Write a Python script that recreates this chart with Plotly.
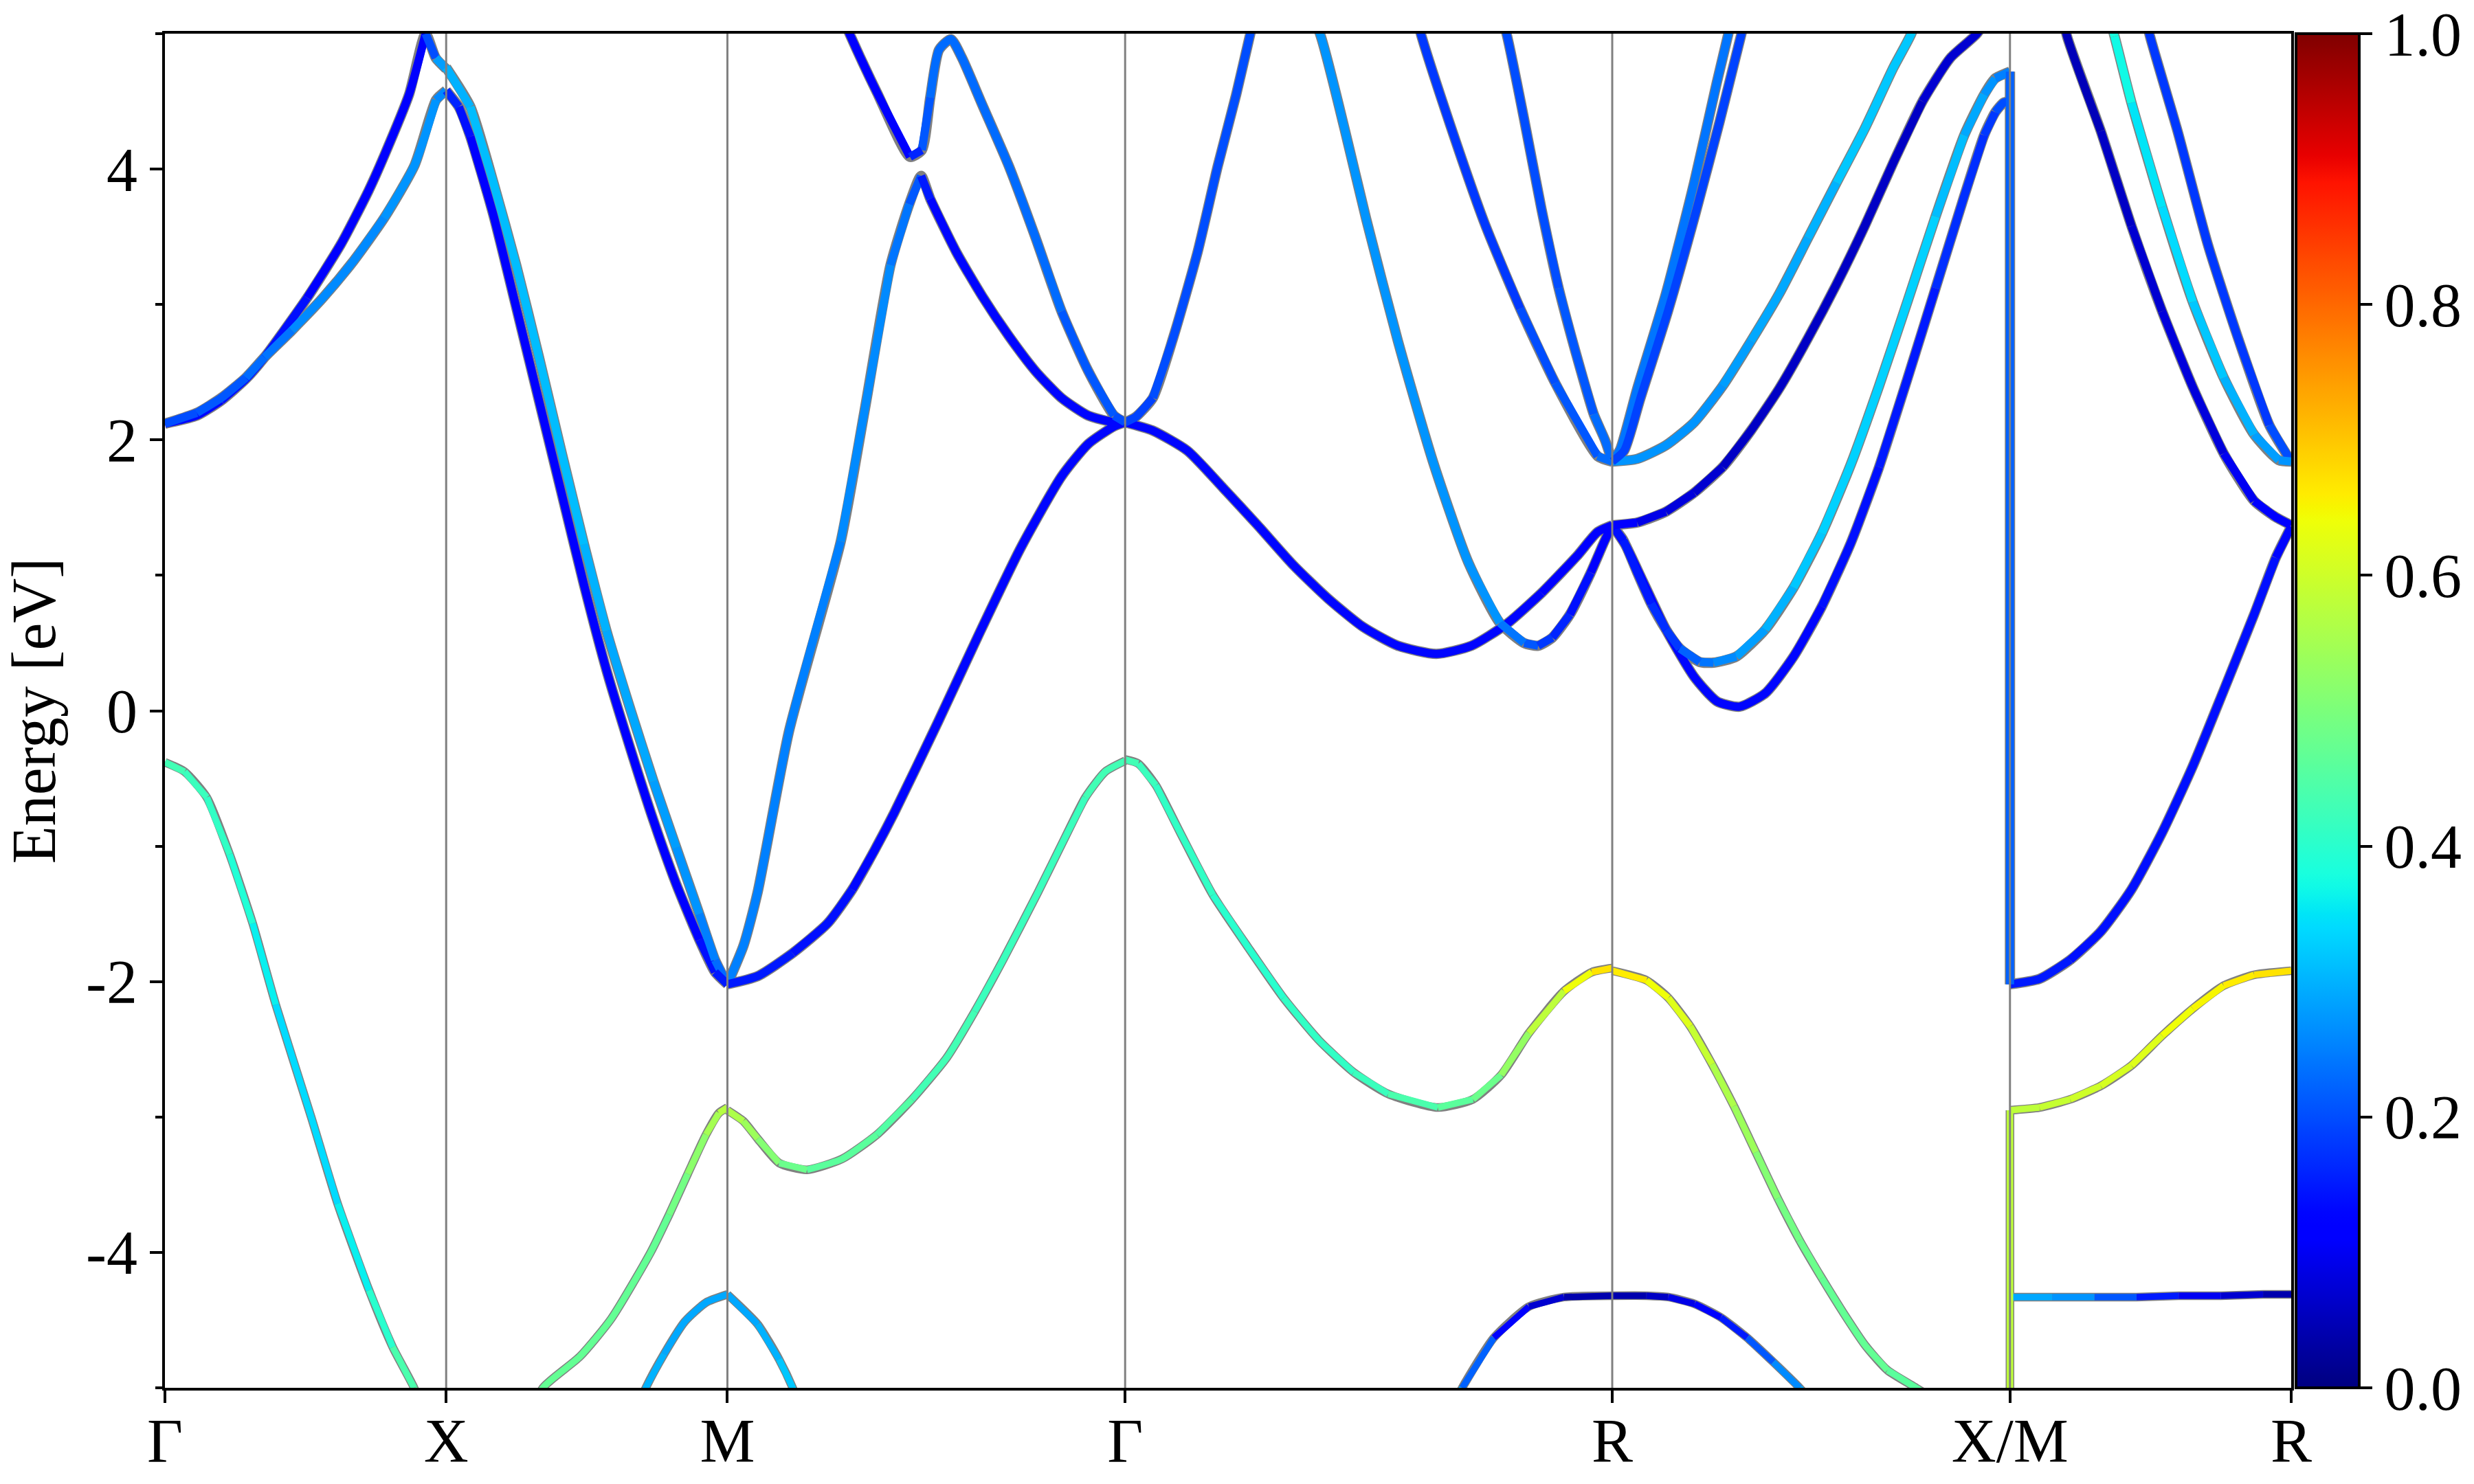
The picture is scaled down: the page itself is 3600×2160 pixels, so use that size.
import numpy as np
import plotly.graph_objects as go

# ---------------- k-path (simple cubic, units of 2*pi/a) ----------------
SEG_LEN = [0.5, 0.5, np.sqrt(2) / 2, np.sqrt(3) / 2, np.sqrt(2) / 2, 0.5]   # Γ-X, X-M, M-Γ, Γ-R, R-X, M-R
TICK_LABELS = ["Γ", "X", "M", "Γ", "R", "X/M", "R"]
Y_TICKS = [-4, -2, 0, 2, 4]
Y_TICK_TEXT = ["-4", "-2", "0", "2", "4"]
Y_MINOR = [-5, -3, -1, 1, 3, 5]
CBAR_TICKS = [0.0, 0.2, 0.4, 0.6, 0.8, 1.0]

# ---------------- bands: (fraction along segment, energy eV, weight) ----------------
# Γ -> X
GX_V1 = [(0.0, -0.38, 0.43), (0.07, -0.45, 0.43), (0.149, -0.64, 0.42), (0.23, -1.06, 0.40),
         (0.312, -1.57, 0.37), (0.394, -2.17, 0.35), (0.52, -3.00, 0.34), (0.614, -3.64, 0.35),
         (0.726, -4.28, 0.38), (0.81, -4.70, 0.42), (0.886, -5.00, 0.46), (1.0, -5.6, 0.47)]
GX_A = [(0.0, 2.12, 0.13), (0.114, 2.18, 0.13), (0.2, 2.29, 0.13), (0.288, 2.45, 0.14),
        (0.354, 2.61, 0.14), (0.506, 3.05, 0.13), (0.627, 3.45, 0.12), (0.724, 3.84, 0.12),
        (0.78, 4.10, 0.12), (0.868, 4.55, 0.12), (0.927, 5.0, 0.13), (0.963, 4.82, 0.27),
        (1.0, 4.74, 0.28)]
GX_B = [(0.0, 2.12, 0.20), (0.114, 2.20, 0.20), (0.2, 2.31, 0.21), (0.288, 2.46, 0.22),
        (0.354, 2.61, 0.23), (0.452, 2.81, 0.25), (0.562, 3.05, 0.26), (0.67, 3.32, 0.26),
        (0.78, 3.64, 0.26), (0.888, 4.03, 0.27), (0.964, 4.51, 0.27), (1.0, 4.58, 0.25)]

# X -> M
XM_CA = [(0.0, 4.75, 0.29), (0.086, 4.46, 0.31), (0.168, 3.90, 0.31), (0.249, 3.29, 0.31),
         (0.33, 2.61, 0.31), (0.41, 1.91, 0.31), (0.49, 1.23, 0.31), (0.57, 0.59, 0.30),
         (0.655, 0.01, 0.29), (0.737, -0.52, 0.28), (0.818, -1.01, 0.27), (0.90, -1.50, 0.26),
         (0.956, -1.84, 0.24), (1.0, -2.02, 0.22)]
XM_CB = [(0.0, 4.58, 0.18), (0.045, 4.46, 0.15), (0.086, 4.24, 0.13), (0.168, 3.66, 0.12),
         (0.249, 2.98, 0.12), (0.33, 2.29, 0.12), (0.41, 1.61, 0.12), (0.49, 0.93, 0.12),
         (0.57, 0.30, 0.12), (0.655, -0.28, 0.12), (0.737, -0.81, 0.12), (0.818, -1.28, 0.12),
         (0.90, -1.69, 0.13), (0.956, -1.93, 0.14), (1.0, -2.02, 0.15)]
XM_V2 = [(0.28, -5.3, 0.47), (0.344, -5.0, 0.47), (0.475, -4.77, 0.47), (0.587, -4.49, 0.47),
         (0.727, -4.00, 0.47), (0.793, -3.72, 0.48), (0.859, -3.42, 0.50), (0.924, -3.13, 0.54),
         (0.97, -2.97, 0.57), (1.0, -2.93, 0.58)]
XM_V3 = [(0.65, -5.3, 0.30), (0.71, -5.0, 0.30), (0.775, -4.75, 0.30), (0.849, -4.51, 0.29),
         (0.924, -4.37, 0.29), (1.0, -4.31, 0.29)]

# M -> Γ
MG_CC = [(0.0, -2.02, 0.15), (0.076, -1.96, 0.15), (0.164, -1.79, 0.14), (0.252, -1.57, 0.14),
         (0.314, -1.32, 0.13), (0.37, -1.03, 0.13), (0.42, -0.75, 0.13), (0.53, -0.08, 0.13),
         (0.63, 0.55, 0.13), (0.737, 1.20, 0.13), (0.84, 1.73, 0.13), (0.907, 1.97, 0.13),
         (0.972, 2.10, 0.13), (1.0, 2.13, 0.13)]
MG_DF = [(0.0, -2.02, 0.25), (0.041, -1.73, 0.25), (0.076, -1.34, 0.25), (0.155, -0.15, 0.25),
         (0.285, 1.25, 0.25), (0.344, 2.20, 0.26), (0.41, 3.29, 0.25), (0.457, 3.74, 0.24),
         (0.487, 3.95, 0.17), (0.51, 3.78, 0.13), (0.575, 3.39, 0.13), (0.641, 3.06, 0.13),
         (0.707, 2.77, 0.13), (0.774, 2.51, 0.13), (0.84, 2.31, 0.13), (0.907, 2.18, 0.13),
         (0.972, 2.13, 0.13), (1.0, 2.13, 0.13)]
MG_E = [(0.25, 5.4, 0.11), (0.307, 5.0, 0.11), (0.377, 4.56, 0.11), (0.459, 4.09, 0.12),
        (0.489, 4.14, 0.20), (0.51, 4.53, 0.22), (0.532, 4.88, 0.23), (0.562, 4.96, 0.23),
        (0.59, 4.82, 0.23), (0.64, 4.48, 0.23), (0.708, 4.02, 0.23), (0.774, 3.50, 0.23),
        (0.84, 2.95, 0.22), (0.907, 2.51, 0.21), (0.972, 2.18, 0.20), (1.0, 2.13, 0.20)]
MG_V2 = [(0.0, -2.95, 0.58), (0.04, -3.03, 0.55), (0.076, -3.16, 0.52), (0.13, -3.34, 0.49),
         (0.2, -3.39, 0.47), (0.288, -3.31, 0.46), (0.376, -3.13, 0.45), (0.464, -2.87, 0.44),
         (0.552, -2.56, 0.43), (0.622, -2.22, 0.43), (0.693, -1.84, 0.42), (0.781, -1.34, 0.42),
         (0.85, -0.93, 0.42), (0.9, -0.64, 0.43), (0.95, -0.45, 0.43), (1.0, -0.37, 0.43)]
MG_V3 = [(0.0, -4.31, 0.29), (0.076, -4.53, 0.30), (0.13, -4.79, 0.31), (0.164, -5.0, 0.32),
         (0.2, -5.3, 0.32)]

# Γ -> R
GR_CC = [(0.0, 2.13, 0.13), (0.056, 2.07, 0.13), (0.128, 1.92, 0.13), (0.2, 1.65, 0.13),
         (0.272, 1.37, 0.13), (0.344, 1.08, 0.13), (0.416, 0.83, 0.13), (0.488, 0.62, 0.13),
         (0.56, 0.48, 0.13), (0.639, 0.42, 0.13), (0.711, 0.48, 0.13), (0.783, 0.64, 0.13),
         (0.855, 0.87, 0.13), (0.927, 1.14, 0.12), (0.97, 1.32, 0.12), (1.0, 1.37, 0.12)]
GR_G = [(0.35, 5.4, 0.27), (0.4, 5.0, 0.27), (0.451, 4.29, 0.27), (0.495, 3.63, 0.27),
        (0.56, 2.73, 0.27), (0.632, 1.84, 0.27), (0.704, 1.10, 0.27), (0.769, 0.65, 0.26),
        (0.819, 0.50, 0.22), (0.848, 0.48, 0.20), (0.877, 0.54, 0.17), (0.913, 0.71, 0.15),
        (0.956, 1.02, 0.13), (0.985, 1.26, 0.12), (1.0, 1.37, 0.12)]
GR_H = [(0.0, 2.13, 0.19), (0.022, 2.17, 0.19), (0.057, 2.31, 0.19), (0.1, 2.77, 0.20),
        (0.149, 3.39, 0.20), (0.19, 4.02, 0.20), (0.228, 4.55, 0.20), (0.257, 5.0, 0.20),
        (0.29, 5.5, 0.20)]
GR_I = [(0.55, 5.8, 0.18), (0.607, 5.0, 0.18), (0.667, 4.33, 0.18), (0.739, 3.59, 0.18),
        (0.811, 2.97, 0.19), (0.883, 2.42, 0.20), (0.97, 1.88, 0.22), (1.0, 1.84, 0.23)]
GR_J = [(0.75, 5.4, 0.20), (0.783, 5.0, 0.20), (0.819, 4.37, 0.20), (0.855, 3.70, 0.20),
        (0.89, 3.12, 0.20), (0.927, 2.62, 0.21), (0.962, 2.19, 0.22), (0.985, 2.0, 0.23),
        (1.0, 1.84, 0.24)]
GR_V2 = [(0.0, -0.36, 0.43), (0.027, -0.39, 0.43), (0.063, -0.55, 0.42), (0.113, -0.90, 0.41),
         (0.18, -1.36, 0.40), (0.253, -1.75, 0.40), (0.325, -2.12, 0.40), (0.397, -2.43, 0.41),
         (0.469, -2.67, 0.42), (0.54, -2.83, 0.43), (0.642, -2.93, 0.45), (0.714, -2.87, 0.47),
         (0.772, -2.69, 0.50), (0.829, -2.38, 0.55), (0.901, -2.07, 0.62), (0.958, -1.93, 0.66),
         (1.0, -1.90, 0.68)]
GR_V4 = [(0.65, -5.3, 0.30), (0.692, -5.0, 0.28), (0.757, -4.63, 0.16), (0.829, -4.40, 0.08),
         (0.901, -4.33, 0.05), (1.0, -4.32, 0.04)]

# R -> X
RX_K1 = [(0.0, 1.84, 0.24), (0.02, 1.93, 0.24), (0.063, 2.38, 0.24), (0.135, 3.08, 0.24),
         (0.206, 3.90, 0.24), (0.263, 4.64, 0.24), (0.292, 5.0, 0.24), (0.33, 5.5, 0.24)]
RX_K2 = [(0.0, 1.84, 0.19), (0.03, 1.92, 0.19), (0.07, 2.30, 0.19), (0.14, 2.95, 0.19),
         (0.21, 3.68, 0.19), (0.27, 4.35, 0.19), (0.325, 5.0, 0.19), (0.36, 5.4, 0.19)]
RX_L = [(0.0, 1.84, 0.27), (0.063, 1.86, 0.27), (0.135, 1.96, 0.27), (0.206, 2.13, 0.27),
        (0.278, 2.40, 0.27), (0.349, 2.73, 0.28), (0.42, 3.08, 0.29), (0.492, 3.49, 0.30),
        (0.564, 3.90, 0.31), (0.635, 4.30, 0.32), (0.707, 4.75, 0.32), (0.752, 5.0, 0.32),
        (0.8, 5.4, 0.32)]
RX_M = [(0.0, 1.37, 0.12), (0.063, 1.39, 0.10), (0.135, 1.47, 0.08), (0.206, 1.61, 0.07),
        (0.278, 1.80, 0.06), (0.349, 2.07, 0.06), (0.42, 2.38, 0.06), (0.492, 2.75, 0.06),
        (0.564, 3.15, 0.06), (0.635, 3.58, 0.06), (0.707, 4.05, 0.06), (0.78, 4.50, 0.06),
        (0.85, 4.82, 0.07), (0.917, 5.0, 0.07), (0.96, 5.2, 0.07)]
RX_N = [(0.0, 1.37, 0.13), (0.034, 1.22, 0.13), (0.078, 0.95, 0.13), (0.135, 0.60, 0.13),
        (0.206, 0.25, 0.13), (0.263, 0.07, 0.13), (0.32, 0.03, 0.13), (0.385, 0.13, 0.13),
        (0.456, 0.40, 0.13), (0.527, 0.77, 0.13), (0.6, 1.24, 0.14), (0.671, 1.80, 0.14),
        (0.742, 2.45, 0.15), (0.813, 3.12, 0.16), (0.885, 3.80, 0.17), (0.935, 4.25, 0.18),
        (0.963, 4.42, 0.19), (0.984, 4.49, 0.20), (1.0, 4.50, 0.20)]
RX_O = [(0.0, 1.37, 0.13), (0.028, 1.26, 0.14), (0.063, 1.02, 0.15), (0.098, 0.79, 0.16),
        (0.135, 0.60, 0.17), (0.17, 0.46, 0.20), (0.22, 0.36, 0.23), (0.255, 0.355, 0.25),
        (0.312, 0.40, 0.27), (0.385, 0.60, 0.29), (0.456, 0.91, 0.31), (0.527, 1.31, 0.32),
        (0.6, 1.82, 0.33), (0.671, 2.40, 0.33), (0.742, 3.02, 0.33), (0.813, 3.65, 0.32),
        (0.885, 4.25, 0.30), (0.935, 4.55, 0.28), (0.963, 4.67, 0.26), (1.0, 4.72, 0.24)]
RX_V2 = [(0.0, -1.92, 0.67), (0.086, -1.99, 0.65), (0.141, -2.12, 0.63), (0.196, -2.33, 0.61),
         (0.251, -2.61, 0.58), (0.306, -2.92, 0.55), (0.361, -3.26, 0.52), (0.416, -3.60, 0.50),
         (0.471, -3.91, 0.49), (0.527, -4.19, 0.48), (0.582, -4.45, 0.47), (0.637, -4.69, 0.47),
         (0.692, -4.87, 0.47), (0.764, -5.0, 0.46), (0.85, -5.15, 0.46), (1.0, -5.25, 0.46)]
RX_V4 = [(0.0, -4.32, 0.04), (0.086, -4.32, 0.05), (0.141, -4.33, 0.07), (0.207, -4.38, 0.10),
         (0.273, -4.48, 0.13), (0.339, -4.63, 0.18), (0.405, -4.81, 0.24), (0.471, -5.0, 0.28),
         (0.53, -5.2, 0.30)]

# M -> R
MR_B1 = [(0.0, -2.02, 0.15), (0.105, -1.98, 0.15), (0.214, -1.84, 0.14), (0.323, -1.63, 0.14),
         (0.432, -1.32, 0.14), (0.541, -0.90, 0.14), (0.65, -0.41, 0.14), (0.76, 0.15, 0.14),
         (0.868, 0.71, 0.14), (0.945, 1.13, 0.13), (1.0, 1.36, 0.13)]
MR_NAVY = [(0.17, 5.3, 0.05), (0.203, 4.98, 0.05), (0.323, 4.28, 0.05), (0.432, 3.58, 0.06),
           (0.541, 2.95, 0.07), (0.65, 2.39, 0.08), (0.76, 1.90, 0.09), (0.868, 1.55, 0.11),
           (0.945, 1.43, 0.12), (1.0, 1.37, 0.12)]
MR_TEAL = [(0.33, 5.3, 0.38), (0.372, 4.98, 0.38), (0.432, 4.49, 0.36), (0.541, 3.72, 0.34),
           (0.65, 3.02, 0.33), (0.76, 2.46, 0.31), (0.868, 2.04, 0.29), (0.956, 1.85, 0.27),
           (1.0, 1.84, 0.27)]
MR_B2 = [(0.46, 5.3, 0.18), (0.498, 4.98, 0.18), (0.596, 4.28, 0.18), (0.704, 3.44, 0.18),
         (0.813, 2.74, 0.18), (0.922, 2.11, 0.19), (1.0, 1.84, 0.20)]
MR_YEL = [(0.0, -2.95, 0.58), (0.105, -2.93, 0.59), (0.214, -2.87, 0.60), (0.323, -2.77, 0.61),
          (0.432, -2.62, 0.62), (0.541, -2.40, 0.63), (0.65, -2.20, 0.64), (0.76, -2.03, 0.65),
          (0.868, -1.95, 0.66), (1.0, -1.92, 0.67)]
MR_FLAT = [(0.0, -4.33, 0.30), (0.15, -4.33, 0.28), (0.3, -4.33, 0.25), (0.45, -4.33, 0.17),
           (0.6, -4.32, 0.12), (0.75, -4.32, 0.08), (0.9, -4.31, 0.05), (1.0, -4.31, 0.03)]

# vertical jumps drawn at the X/M break: (E at X, E at M, weight)
XM_JUMPS = [(4.72, -2.02, 0.22), (-5.6, -2.95, 0.58)]

SEGMENT_BANDS = [
    [GX_V1, GX_A, GX_B],
    [XM_CA, XM_CB, XM_V2, XM_V3],
    [MG_CC, MG_DF, MG_E, MG_V2, MG_V3],
    [GR_CC, GR_G, GR_H, GR_I, GR_J, GR_V2, GR_V4],
    [RX_K1, RX_K2, RX_L, RX_M, RX_N, RX_O, RX_V2, RX_V4],
    [MR_B1, MR_NAVY, MR_TEAL, MR_B2, MR_YEL, MR_FLAT],
]

# ---------------- helpers ----------------
K_NODES = np.concatenate([[0.0], np.cumsum(SEG_LEN)])


def jet_rgb(v):
    v = float(np.clip(v, 0, 1))
    r = np.interp(v, [0, 0.35, 0.66, 0.89, 1], [0, 0, 1, 1, 0.5])
    g = np.interp(v, [0, 0.125, 0.375, 0.64, 0.91, 1], [0, 0, 1, 1, 0, 0])
    b = np.interp(v, [0, 0.11, 0.34, 0.65, 1], [0.5, 1, 1, 0, 0])
    return f"rgb({round(r * 255)},{round(g * 255)},{round(b * 255)})"


JET_SCALE = [[i / 100, jet_rgb(i / 100)] for i in range(101)]

# two line-width classes: conduction-type bands (thicker) and valence-type bands
WIDTHS = {"c": (15, 12), "v": (12.5, 9.5)}   # (outline, colour)
runs = {"c": {}, "v": {}}
outlines = {"c": ([], []), "v": ([], [])}


def add_band(ks, es, ws):
    cls = "c" if max(es) > 0 else "v"
    ox, oy = outlines[cls]
    ox.extend(list(ks) + [None])
    oy.extend(list(es) + [None])
    store = runs[cls]
    cur, rx, ry = None, [], []
    for i in range(len(ks) - 1):
        col = jet_rgb(round((ws[i] + ws[i + 1]) / 2, 2))
        if col != cur:
            if rx:
                store.setdefault(cur, []).append((rx, ry))
            cur, rx, ry = col, [ks[i]], [es[i]]
        rx.append(ks[i + 1])
        ry.append(es[i + 1])
    if rx:
        store.setdefault(cur, []).append((rx, ry))


for si, bands in enumerate(SEGMENT_BANDS):
    k0, L = K_NODES[si], SEG_LEN[si]
    for band in bands:
        add_band([k0 + t * L for t, _, _ in band], [e for _, e, _ in band], [w for _, _, w in band])

k_xm = K_NODES[5]
for e1, e2, w in XM_JUMPS:
    add_band([k_xm, k_xm], [e1, e2], [w, w])

SMOOTH = 0.6
fig = go.Figure()
for cls in ("v", "c"):
    ox, oy = outlines[cls]
    fig.add_trace(go.Scatter(x=ox, y=oy, mode="lines",
                             line=dict(color="rgb(128,128,128)", width=WIDTHS[cls][0],
                                       shape="spline", smoothing=SMOOTH),
                             hoverinfo="skip", showlegend=False))
for cls in ("v", "c"):
    for col, pieces in runs[cls].items():
        xs, ys = [], []
        for rx, ry in pieces:
            xs += rx + [None]
            ys += ry + [None]
        fig.add_trace(go.Scatter(x=xs, y=ys, mode="lines",
                                 line=dict(color=col, width=WIDTHS[cls][1],
                                           shape="spline", smoothing=SMOOTH),
                                 hoverinfo="skip", showlegend=False))

FONT = "Liberation Serif"
FS = 90

# colorbar carrier
fig.add_trace(go.Scatter(
    x=[0], y=[-100], mode="markers", showlegend=False, hoverinfo="skip",
    marker=dict(color=[0.5], colorscale=JET_SCALE, cmin=0, cmax=1, showscale=True, size=1,
                colorbar=dict(x=1.0023, xanchor="left", xref="paper", y=0.5, yanchor="middle",
                              len=1, lenmode="fraction", thickness=92, xpad=0, ypad=0,
                              outlinewidth=4, outlinecolor="black",
                              ticks="outside", ticklen=17, tickwidth=4, tickcolor="black",
                              tickvals=CBAR_TICKS, ticktext=[f"{v:.1f}" for v in CBAR_TICKS],
                              tickfont=dict(family=FONT, size=FS, color="black")))))

shapes = []
for k in K_NODES[1:-1]:
    shapes.append(dict(type="line", xref="x", yref="paper", x0=k, x1=k, y0=0, y1=1,
                       line=dict(color="rgb(128,128,128)", width=3), layer="above"))

fig.update_layout(
    width=3600, height=2160,
    margin=dict(l=240, r=266, t=49, b=140, autoexpand=False),
    paper_bgcolor="white", plot_bgcolor="white",
    font=dict(family=FONT, size=FS, color="black"),
    shapes=shapes,
    xaxis=dict(range=[0, K_NODES[-1]], tickvals=list(K_NODES), ticktext=TICK_LABELS,
               automargin=False, ticklabelstandoff=-22,
               showgrid=False, zeroline=False, showline=True, linewidth=4, linecolor="black",
               mirror=True, ticks="outside", ticklen=18, tickwidth=4, tickcolor="black",
               tickfont=dict(family=FONT, size=FS, color="black")),
    yaxis=dict(range=[-5, 5], tickvals=Y_TICKS, ticktext=Y_TICK_TEXT, automargin=False,
               showgrid=False, zeroline=False, showline=True, linewidth=4, linecolor="black",
               mirror=True, ticks="outside", ticklen=18, tickwidth=4, tickcolor="black",
               minor=dict(tickvals=Y_MINOR, ticks="outside", ticklen=10, tickwidth=4,
                          tickcolor="black", showgrid=False),
               tickfont=dict(family=FONT, size=FS, color="black"),
               title=dict(text="Energy [eV]", font=dict(family=FONT, size=FS, color="black"),
                          standoff=30)),
)

fig.write_html("out.html", config={"displayModeBar": False},
               post_script="document.body.style.margin='0px';")
